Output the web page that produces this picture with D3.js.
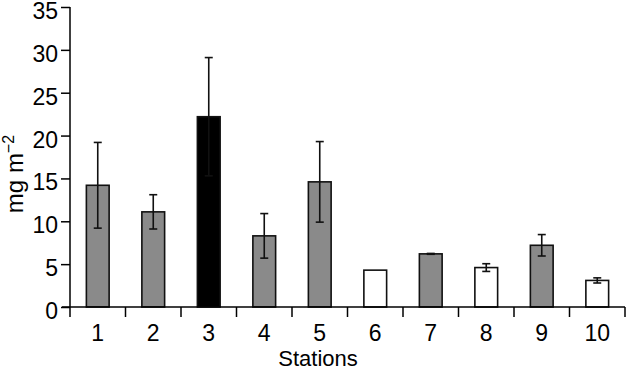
<!DOCTYPE html>
<html><head><meta charset="utf-8">
<script src="https://cdn.jsdelivr.net/npm/d3@7"></script>
<style>
body{margin:0;background:#fff;}
text{font-family:"Liberation Sans",Arial,sans-serif;fill:#000;}
</style></head>
<body><svg id="c" width="626" height="370"></svg>
<script>
const categories = ["1","2","3","4","5","6","7","8","9","10"];
const values = [14.2, 11.1, 22.2, 8.3, 14.6, 4.3, 6.2, 4.6, 7.2, 3.1];
const errors = [5.0, 2.0, 6.9, 2.6, 4.7, 0, 0.05, 0.45, 1.25, 0.3];
const groups = ["grey","grey","black","grey","grey","white","grey","white","grey","white"];
const yTicks = [0,5,10,15,20,25,30,35];
const fills = {grey:"#8a8a8a", black:"#000000", white:"#ffffff"};

const svg = d3.select("#c");
const x = d3.scaleBand().domain(categories).range([70,625]).padding(0);
const y = d3.scaleLinear().domain([0,35]).range([307,7]);
const bw = x.bandwidth()*0.41;

// bars
const data = categories.map((c,i)=>({c, v:values[i], e:errors[i], g:groups[i]}));
svg.selectAll("rect.bar").data(data).enter().append("rect")
  .attr("class","bar")
  .attr("x", d=>x(d.c)+x.bandwidth()/2-bw/2)
  .attr("y", d=>y(d.v))
  .attr("width", bw)
  .attr("height", d=>y(0)-y(d.v))
  .attr("fill", d=>fills[d.g])
  .attr("stroke","#111").attr("stroke-width",1.6);

// error bars
const eb = svg.selectAll("g.err").data(data.filter(d=>d.e>0)).enter().append("g").attr("class","err")
  .attr("stroke","#111").attr("stroke-width",1.6);
eb.append("line")
  .attr("x1", d=>x(d.c)+x.bandwidth()/2).attr("x2", d=>x(d.c)+x.bandwidth()/2)
  .attr("y1", d=>y(d.v+d.e)).attr("y2", d=>y(d.v-d.e));
eb.append("line")
  .attr("x1", d=>x(d.c)+x.bandwidth()/2-4).attr("x2", d=>x(d.c)+x.bandwidth()/2+4)
  .attr("y1", d=>y(d.v+d.e)).attr("y2", d=>y(d.v+d.e));
eb.append("line")
  .attr("x1", d=>x(d.c)+x.bandwidth()/2-4).attr("x2", d=>x(d.c)+x.bandwidth()/2+4)
  .attr("y1", d=>y(d.v-d.e)).attr("y2", d=>y(d.v-d.e));

// y axis
const yAxis = d3.axisLeft(y).tickValues(yTicks).tickSize(9).tickPadding(3).tickFormat(d3.format("d"));
const gy = svg.append("g").attr("transform","translate(70,0)").call(yAxis);
gy.select(".domain").attr("d","M0,"+y(35)+"V"+y(0)).attr("stroke","#000").attr("stroke-width",1.5);
gy.selectAll(".tick line").attr("stroke","#000").attr("stroke-width",1.5);
gy.selectAll(".tick text").attr("font-size",23).attr("font-family","Liberation Sans, Arial, sans-serif").attr("dy","0.5em");

// x axis: ticks at band boundaries
const bounds = categories.map(c=>x(c)).concat([x(categories[categories.length-1])+x.bandwidth()]);
const gx = svg.append("g");
gx.append("line").attr("x1",62).attr("x2",625).attr("y1",y(0)).attr("y2",y(0)).attr("stroke","#000").attr("stroke-width",1.5);
gx.selectAll("line.t").data(bounds).enter().append("line").attr("class","t")
  .attr("x1",d=>d).attr("x2",d=>d).attr("y1",y(0)).attr("y2",y(0)+10)
  .attr("stroke","#000").attr("stroke-width",1.5);
gx.selectAll("text").data(categories).enter().append("text")
  .attr("x",d=>x(d)+x.bandwidth()/2).attr("y",341)
  .attr("text-anchor","middle").attr("font-size",23).text(d=>d);

// axis titles
svg.append("text").attr("x",318).attr("y",366).attr("text-anchor","middle").attr("font-size",22).text("Stations");
const yl = svg.append("text").attr("transform","translate(23,174) rotate(-90)").attr("text-anchor","middle").attr("font-size",24);
yl.append("tspan").text("mg m");
yl.append("tspan").attr("font-size",16).attr("dy",-9).text("\u22122");
</script></body></html>
